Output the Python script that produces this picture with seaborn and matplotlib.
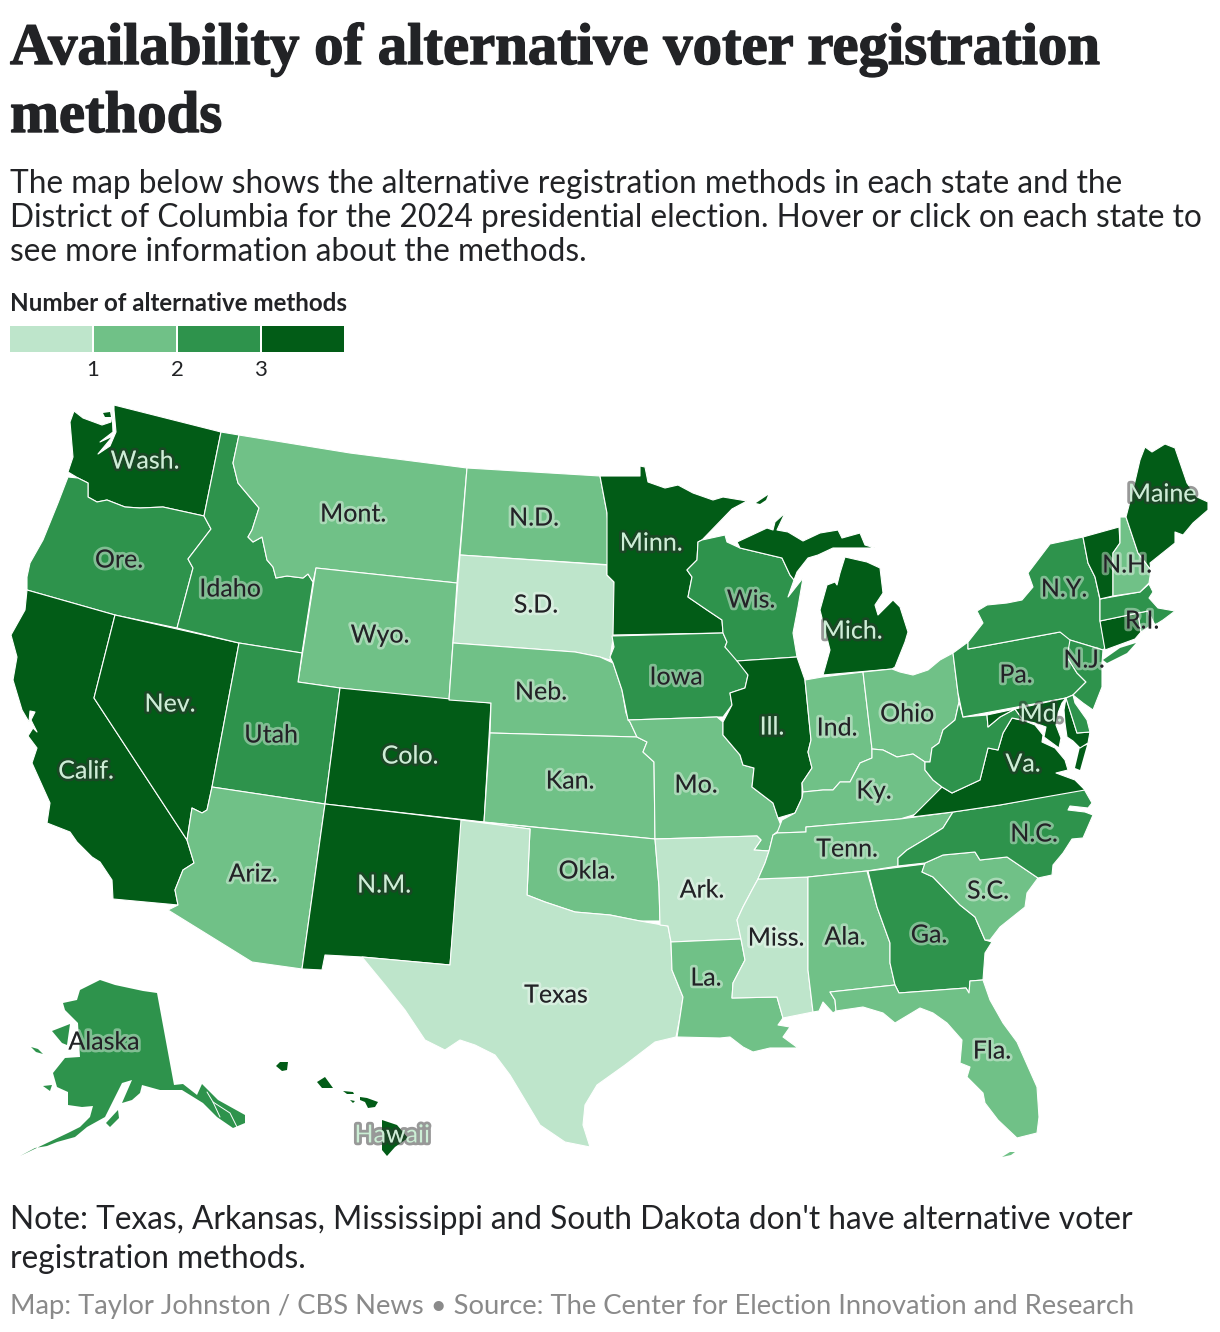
import matplotlib
matplotlib.use('Agg')
import matplotlib.pyplot as plt
import matplotlib.patheffects as pe
import numpy as np
import pandas as pd
import seaborn as sns

sns.set_theme(style='white')
plt.rcParams['font.family'] = ['Lato', 'DejaVu Sans']

# =============================================================================
# Data
# =============================================================================

title_lines = ['Availability of alternative voter registration', 'methods']
intro_lines = ['The map below shows the alternative registration methods in each state and the',
               'District of Columbia for the 2024 presidential election. Hover or click on each state to',
               'see more information about the methods.']
note_lines = ["Note: Texas, Arkansas, Mississippi and South Dakota don't have alternative voter",
              'registration methods.']
credit = 'Map: Taylor Johnston / CBS News \u2022 Source: The Center for Election Innovation and Research'
legend_title = 'Number of alternative methods'
legend_ticks = ['1', '2', '3']
greens = ['#bee5cb', '#70c187', '#2e934c', '#025c17']

# number of methods per state
states = ['Wash.', 'Ore.', 'Calif.', 'Nev.', 'Idaho', 'Mont.', 'Wyo.', 'Utah', 'Ariz.', 'Colo.',
          'N.M.', 'N.D.', 'S.D.', 'Neb.', 'Kan.', 'Okla.', 'Texas', 'Minn.', 'Iowa', 'Mo.',
          'Ark.', 'La.', 'Wis.', 'Ill.', 'Miss.', 'Ind.', 'Mich.', 'Ohio', 'Ky.', 'Tenn.',
          'Ala.', 'Ga.', 'Fla.', 'S.C.', 'N.C.', 'Va.', 'W.Va.', 'Pa.', 'N.Y.', 'N.J.',
          'Md.', 'Del.', 'Conn.', 'R.I.', 'Mass.', 'Vt.', 'N.H.', 'Maine', 'Alaska', 'Hawaii']
methods = [3, 2, 3, 3, 2, 1, 1, 2, 1, 3,
           3, 1, 0, 1, 1, 1, 0, 3, 2, 1,
           0, 1, 2, 3, 0, 1, 3, 1, 1, 1,
           1, 2, 1, 1, 2, 3, 2, 2, 2, 2,
           3, 2, 3, 2, 2, 3, 1, 3, 2, 3]

# outlines
WA = [(74,411),(83,418),(102,425),(111,422),(112,410),(113,432),(100,442),(113,436),(98,454),(110,446),(116,432),(114,410),(114,405),(221,432),(204,516),(163,507),(140,508),(125,507),(107,500),(97,502),(88,497),(88,483),(78,478),(68,472),(73,457),(70,422)]
WA_ISLE = [(103,413),(110,412),(111,417),(105,417)]
OR = [(68,477),(78,478),(88,483),(88,497),(97,502),(107,500),(125,507),(140,508),(163,507),(204,516),(211,529),(188,559),(193,568),(177,628),(115,615),(27,590),(27,577),(30,563),(43,540),(58,503)]
CA = [(27,590),(115,615),(94,698),(187,840),(194,863),(183,870),(175,890),(178,905),(113,899),(112,880),(100,862),(92,857),(77,842),(70,832),(47,823),(50,803),(32,763),(37,748),(28,736),(33,728),(37,732),(31,720),(35,712),(30,711),(29,722),(22,710),(13,680),(17,657),(11,635),(25,610)]
NV = [(115,615),(239,643),(212,787),(207,810),(202,813),(192,808),(187,840),(94,698)]
ID = [(221,432),(239,435),(233,463),(238,483),(259,508),(252,530),(248,537),(253,542),(262,537),(267,560),(273,567),(276,578),(287,576),(303,578),(308,574),(313,582),(302,653),(239,643),(177,628),(193,568),(188,559),(211,529),(204,516)]
MT = [(239,435),(350,453),(467,468),(457,583),(316,568),(313,582),(308,574),(303,578),(287,576),(276,578),(273,567),(267,560),(262,537),(253,542),(248,537),(252,530),(259,508),(238,483),(233,463)]
WY = [(316,568),(457,583),(449,700),(340,688),(298,682)]
UT = [(239,643),(302,653),(298,682),(340,688),(325,804),(212,787)]
AZ = [(212,787),(325,804),(302,969),(252,962),(168,910),(178,905),(175,890),(183,870),(194,863),(187,840),(192,808),(202,813),(207,810)]
CO = [(340,688),(491,703),(484,822),(325,804)]
NM = [(325,804),(462,820),(450,965),(362,957),(325,955),(322,970),(302,969)]
ND = [(467,468),(600,476),(607,513),(612,565),(460,555)]
SD = [(460,555),(607,565),(607,575),(614,582),(614,635),(612,645),(610,660),(600,657),(575,652),(453,643)]
NE = [(453,643),(575,652),(600,657),(613,663),(622,690),(626,713),(630,722),(637,737),(490,733),(491,703),(449,700)]
KS = [(490,733),(637,737),(647,742),(643,752),(654,762),(655,839),(484,822)]
OK = [(461,820),(655,839),(659,887),(660,921),(640,921),(610,915),(575,912),(545,902),(527,895),(530,829)]
TX = [(461,820),(530,829),(527,895),(545,902),(575,912),(610,915),(640,921),(668,926),(671,942),(672,970),(683,997),(680,1017),(676,1037),(655,1042),(625,1065),(597,1085),(585,1105),(583,1125),(590,1147),(565,1142),(540,1125),(525,1100),(510,1075),(495,1055),(475,1045),(460,1040),(445,1050),(425,1040),(405,1010),(385,985),(362,957),(450,965)]
MN = [(600,476),(640,476),(640,466),(645,467),(648,482),(665,488),(678,485),(693,493),(713,500),(723,497),(747,501),(732,509),(702,540),(698,542),(697,560),(687,570),(692,577),(688,597),(707,610),(722,620),(723,633),(613,635),(614,582),(607,575),(607,513)]
IA = [(612,636),(723,633),(727,642),(725,647),(737,658),(748,675),(745,688),(730,693),(732,705),(723,717),(717,717),(628,720),(622,690),(613,663),(610,657),(614,647)]
MO = [(628,720),(717,717),(723,722),(723,735),(740,755),(743,765),(754,768),(752,787),(773,803),(778,818),(782,828),(773,835),(769,851),(754,850),(761,840),(757,836),(655,839),(654,762),(643,752),(647,742),(637,737),(630,722)]
AR = [(655,839),(757,836),(761,840),(754,850),(769,851),(765,863),(758,879),(752,890),(743,907),(737,920),(741,939),(671,942),(668,926),(660,925),(659,887)]
LA = [(671,942),(741,939),(745,960),(733,983),(732,998),(777,997),(783,1018),(778,1025),(790,1027),(783,1037),(798,1048),(770,1048),(753,1052),(743,1047),(730,1037),(720,1038),(677,1037),(680,1017),(683,997),(672,970)]
WI = [(702,540),(725,535),(727,542),(740,548),(782,558),(790,575),(794,580),(788,597),(803,578),(798,607),(793,633),(797,657),(737,661),(725,647),(727,642),(723,633),(722,620),(707,610),(688,597),(692,577),(687,570),(697,560),(698,542)]
IL = [(737,661),(797,657),(805,680),(811,740),(808,752),(812,768),(802,783),(802,798),(795,813),(778,818),(773,803),(752,787),(754,768),(743,765),(740,755),(723,735),(723,722),(732,705),(730,693),(745,688),(748,675)]
MS = [(758,879),(808,877),(808,970),(813,1012),(783,1018),(777,997),(732,998),(733,983),(745,960),(741,939),(737,920),(743,907),(752,890)]
IN = [(805,680),(822,677),(863,672),(872,749),(872,758),(860,763),(850,782),(840,782),(833,790),(823,790),(803,792),(802,783),(812,768),(808,752),(811,740)]
MI_LOWER = [(845,557),(867,562),(880,568),(883,593),(875,605),(878,615),(893,600),(900,607),(908,632),(905,642),(895,667),(892,669),(823,675),(830,650),(820,610),(827,585),(835,582),(837,585),(840,573)]
MI_UPPER = [(737,542),(767,528),(773,530),(775,522),(785,513),(777,530),(788,532),(803,541),(820,533),(838,530),(842,538),(860,533),(865,545),(875,548),(850,548),(833,548),(818,555),(808,558),(797,572),(794,580),(790,575),(782,558),(740,548)]
MI_ISLE = [(756,503),(768,495),(766,500),(760,504)]
OH = [(863,672),(892,669),(900,672),(913,675),(928,670),(940,660),(953,653),(958,693),(959,702),(955,720),(943,730),(939,743),(932,748),(930,762),(925,762),(913,754),(897,757),(883,750),(872,749)]
KY = [(803,792),(823,790),(833,790),(840,782),(850,782),(860,763),(872,758),(872,749),(883,750),(897,757),(913,754),(925,762),(925,770),(933,780),(942,787),(920,813),(900,819),(806,827),(806,832),(777,833),(782,820),(795,813),(802,798)]
TN = [(777,833),(806,832),(806,827),(900,819),(953,812),(943,828),(927,838),(907,850),(898,858),(898,866),(867,871),(808,877),(758,879),(765,863),(769,851),(773,835)]
AL = [(808,877),(867,871),(877,907),(890,943),(890,963),(895,985),(830,992),(835,1000),(836,1011),(833,1013),(823,1002),(819,1011),(813,1012),(808,970)]
GA = [(868,871),(925,864),(922,872),(933,877),(960,905),(975,917),(985,940),(992,942),(985,953),(983,980),(970,981),(969,993),(966,988),(899,993),(895,985),(890,963),(890,943),(877,907)]
FL = [(830,992),(895,985),(899,993),(966,988),(969,993),(970,981),(983,980),(990,1000),(1003,1023),(1017,1042),(1037,1087),(1039,1117),(1037,1133),(1017,1138),(998,1120),(985,1103),(983,1093),(967,1077),(970,1067),(960,1063),(962,1040),(947,1023),(933,1013),(920,1008),(895,1023),(883,1013),(863,1007),(836,1011),(835,1000)]
FL_KEYS = [(1002,1157),(1010,1152),(1015,1152),(1011,1155)]
SC = [(922,872),(925,863),(943,855),(975,852),(980,860),(1007,857),(1038,878),(1027,893),(1025,907),(1000,927),(990,940),(985,940),(975,917),(960,905),(933,877)]
NC = [(953,812),(1000,805),(1084,789),(1092,803),(1088,808),(1070,806),(1068,810),(1085,812),(1093,815),(1083,838),(1072,839),(1063,853),(1053,865),(1052,875),(1038,878),(1007,857),(980,860),(975,852),(943,855),(925,863),(898,866),(898,858),(907,850),(927,838),(943,828)]
VA = [(912,817),(942,787),(952,793),(980,780),(988,748),(998,750),(1003,733),(1012,718),(1025,721),(1035,725),(1043,735),(1042,742),(1055,748),(1065,760),(1068,770),(1056,773),(1075,780),(1085,790),(1000,805),(953,812)]
VA_SHORE = [(1080,747),(1087,745),(1080,770),(1075,768)]
WV = [(959,702),(963,717),(987,715),(988,727),(1000,717),(1015,709),(1023,720),(1012,718),(1003,733),(998,750),(988,748),(980,780),(952,793),(942,787),(933,780),(925,770),(925,762),(930,762),(932,748),(939,743),(943,730),(955,720)]
PA = [(953,653),(968,642),(968,649),(1060,632),(1070,638),(1077,647),(1067,657),(1077,673),(1086,682),(1073,695),(1066,698),(963,717),(958,693)]
NY = [(968,642),(983,623),(977,611),(987,605),(1007,603),(1022,600),(1033,587),(1028,573),(1050,544),(1083,537),(1088,563),(1095,577),(1100,600),(1100,620),(1105,648),(1103,650),(1070,640),(1060,632),(968,649)]
NY_ISLAND = [(1103,660),(1120,648),(1136,643),(1127,653),(1107,663)]
NJ = [(1070,640),(1103,650),(1102,663),(1102,687),(1093,710),(1083,703),(1073,695),(1086,682),(1077,673),(1067,657)]
MD_WEST = [(987,715),(1066,698),(1062,703),(1058,713),(1056,725),(1061,738),(1059,748),(1044,737),(1046,727),(1035,723),(1023,720),(1015,709),(1000,717),(988,727)]
MD_EAST = [(1066,698),(1077,733),(1090,732),(1088,743),(1080,748),(1073,741),(1067,737),(1065,723),(1064,710)]
DE = [(1066,698),(1073,695),(1075,703),(1087,720),(1090,732),(1077,733)]
CT = [(1100,621),(1138,613),(1141,632),(1135,639),(1105,650)]
RI = [(1138,613),(1148,611),(1152,625),(1141,632)]
MA = [(1100,599),(1140,592),(1149,584),(1153,592),(1149,598),(1158,608),(1175,611),(1163,620),(1155,625),(1148,611),(1138,613),(1100,621)]
VT = [(1083,537),(1119,527),(1120,543),(1113,553),(1113,596),(1100,599),(1095,577),(1088,563)]
NH = [(1120,517),(1126,517),(1138,553),(1151,570),(1149,583),(1140,592),(1113,596),(1113,553),(1120,543)]
ME = [(1126,517),(1133,490),(1140,460),(1145,447),(1152,452),(1165,444),(1175,448),(1187,483),(1197,497),(1208,502),(1208,510),(1193,523),(1183,535),(1175,532),(1175,543),(1150,563),(1151,570),(1138,553)]
AK = [(63,1003),(77,1000),(80,990),(100,980),(115,985),(143,991),(157,993),(174,1085),(183,1084),(197,1095),(202,1084),(218,1100),(245,1115),(245,1123),(233,1128),(217,1117),(203,1103),(182,1090),(160,1090),(142,1085),(140,1093),(132,1100),(122,1103),(132,1080),(122,1083),(110,1107),(105,1117),(87,1127),(75,1137),(57,1142),(47,1146),(35,1148),(20,1156),(47,1143),(68,1133),(80,1127),(90,1117),(93,1106),(82,1107),(68,1105),(68,1092),(57,1087),(53,1073),(65,1058),(80,1057),(78,1023),(65,1010)]
AK_WEST = [(52,1031),(70,1024),(67,1045),(62,1043)]
AK_NUNIVAK = [(43,1086),(52,1085),(50,1091)]
AK_LAWRENCE = [(31,1047),(38,1049),(43,1054),(36,1052)]
AK_KODIAK = [(106,1123),(118,1110),(119,1118),(110,1127)]
AK_CHANNELS = [[(207,1092),(213,1102),(220,1117)], [(213,1102),(230,1113),(237,1127)]]
HI_BIG = [(382,1120),(397,1125),(408,1138),(395,1147),(387,1156),(382,1150)]
HI_MAUI = [(360,1097),(367,1098),(378,1102),(375,1107),(368,1108),(365,1102),(360,1100)]
HI_MOLOKAI = [(343,1091),(353,1092),(354,1094),(347,1094)]
HI_LANAI = [(350,1100),(355,1101),(353,1103)]
HI_OAHU = [(317,1082),(325,1077),(333,1088),(322,1088)]
HI_KAUAI = [(276,1066),(280,1062),(288,1062),(287,1070),(282,1071)]

outlines = {'Wash.': [WA, WA_ISLE], 'Ore.': [OR], 'Calif.': [CA], 'Nev.': [NV], 'Idaho': [ID], 'Mont.': [MT],
            'Wyo.': [WY], 'Utah': [UT], 'Ariz.': [AZ], 'Colo.': [CO], 'N.M.': [NM], 'N.D.': [ND],
            'S.D.': [SD], 'Neb.': [NE], 'Kan.': [KS], 'Okla.': [OK], 'Texas': [TX], 'Minn.': [MN],
            'Iowa': [IA], 'Mo.': [MO], 'Ark.': [AR], 'La.': [LA], 'Wis.': [WI], 'Ill.': [IL],
            'Miss.': [MS], 'Ind.': [IN], 'Mich.': [MI_LOWER, MI_UPPER, MI_ISLE], 'Ohio': [OH],
            'Ky.': [KY], 'Tenn.': [TN], 'Ala.': [AL], 'Ga.': [GA], 'Fla.': [FL, FL_KEYS], 'S.C.': [SC],
            'N.C.': [NC], 'Va.': [VA, VA_SHORE], 'W.Va.': [WV], 'Pa.': [PA], 'N.Y.': [NY, NY_ISLAND],
            'N.J.': [NJ], 'Md.': [MD_WEST, MD_EAST], 'Del.': [DE], 'Conn.': [CT], 'R.I.': [RI],
            'Mass.': [MA], 'Vt.': [VT], 'N.H.': [NH], 'Maine': [ME],
            'Alaska': [AK, AK_WEST, AK_NUNIVAK, AK_LAWRENCE, AK_KODIAK],
            'Hawaii': [HI_BIG, HI_MAUI, HI_MOLOKAI, HI_LANAI, HI_OAHU, HI_KAUAI]}

# these would vanish under a white edge
small_bits = [WA_ISLE, MI_ISLE, FL_KEYS, VA_SHORE, NY_ISLAND, AK, AK_WEST, AK_NUNIVAK, AK_LAWRENCE, AK_KODIAK,
              HI_BIG, HI_MAUI, HI_MOLOKAI, HI_LANAI, HI_OAHU, HI_KAUAI]

# where the state names sit, small states have none
label_spots = {'Wash.': (145,459), 'Ore.': (119,558), 'Calif.': (86,769), 'Nev.': (170,702),
               'Idaho': (230,587), 'Mont.': (353,512), 'Wyo.': (380,633), 'Utah': (271,733),
               'Ariz.': (253,872), 'Colo.': (410,754), 'N.M.': (384,883), 'N.D.': (534,516),
               'S.D.': (536,603), 'Neb.': (541,690), 'Kan.': (570,779), 'Okla.': (587,869),
               'Texas': (556,993), 'Minn.': (651,541), 'Iowa': (676,675), 'Mo.': (696,783),
               'Ark.': (702,888), 'La.': (706,976), 'Wis.': (751,598), 'Ill.': (772,725),
               'Miss.': (776,936), 'Ind.': (837,726), 'Mich.': (852,629), 'Ohio': (907,712),
               'Ky.': (874,789), 'Tenn.': (847,847), 'Ala.': (845,935), 'Ga.': (929,933),
               'Fla.': (992,1049), 'S.C.': (988,889), 'N.C.': (1034,832), 'Va.': (1023,762),
               'Pa.': (1016,673), 'N.Y.': (1064,587), 'N.J.': (1084,658), 'Md.': (1041,712),
               'N.H.': (1127,563), 'R.I.': (1142,619), 'Maine': (1162,492), 'Alaska': (104,1040),
               'Hawaii': (392,1133)}

df = pd.DataFrame({'state': states, 'methods': methods})
palette = sns.color_palette(greens)

# =============================================================================
# Figure
# =============================================================================

fig = plt.figure(figsize=(12.2, 13.32), dpi=100)
ax = fig.add_axes([0, 0, 1, 1])
ax.set_xlim(0, 1220)
ax.set_ylim(1332, 0)
ax.axis('off')

# map
for _, row in df.iterrows():
    for shape in outlines[row['state']]:
        xs, ys = zip(*shape)
        lw = 0 if any(shape is bit for bit in small_bits) else 0.8
        ax.fill(xs, ys, color=palette[row['methods']], ec='white', lw=lw, joinstyle='round', zorder=2)
for channel in AK_CHANNELS:
    xs, ys = zip(*channel)
    ax.plot(xs, ys, color='white', lw=0.7, zorder=3)

# state names
for _, row in df.iterrows():
    if row['state'] not in label_spots:
        continue
    x, y = label_spots[row['state']]
    if row['methods'] == 3:
        tc, halo = '#cdeed6', (0.2, 0.2, 0.2, 0.5)
    else:
        tc, halo = '#222326', (1, 1, 1, 0.4)
    ax.text(x, y + 2, row['state'], ha='center', va='center', fontsize=18, color=tc, zorder=5,
            path_effects=[pe.withStroke(linewidth=4, foreground=halo)])

# headline
title_font = dict(family='Liberation Serif', weight='bold', fontsize=42.3, color='#222326')
title_fx = [pe.withStroke(linewidth=1, foreground='#222326')]
ax.text(10, 64, title_lines[0], va='baseline', path_effects=title_fx, **title_font)
ax.text(10, 132, title_lines[1], va='baseline', path_effects=title_fx, **title_font)
for txt, yy in zip(intro_lines, [193, 227, 261]):
    ax.text(10, yy, txt, va='baseline', fontsize=22.78, color='#222326')
ax.text(10, 311, legend_title, va='baseline', fontsize=17.4, weight='bold', color='#222326')
for txt, yy in zip(note_lines, [1229, 1268]):
    ax.text(10, yy, txt, va='baseline', fontsize=22.8, color='#222326')
ax.text(10, 1314, credit, va='baseline', fontsize=19.75, color='#8a8a8a')

# legend
cax = fig.add_axes([9.2 / 1220, 1 - 352.8 / 1332, 335.6 / 1220, 27.6 / 1332])
sns.heatmap(np.array([[0, 1, 2, 3]]), cmap=greens, cbar=False, linewidths=1.2, linecolor='white',
            xticklabels=False, yticklabels=False, ax=cax)
cax.set_xticks([1, 2, 3])
cax.set_xticklabels(legend_ticks, rotation=0, fontsize=16, color='#222326')
cax.tick_params(axis='x', length=0, pad=5)

plt.savefig('out.png', dpi=100)
